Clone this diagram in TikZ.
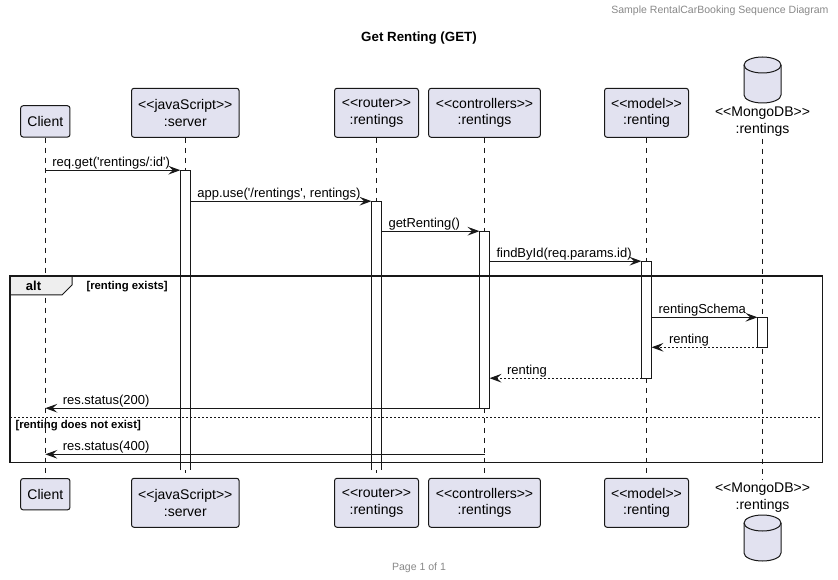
\documentclass[tikz,border=0pt]{standalone}
\usepackage{fontspec}
\setmainfont{Liberation Sans}[Ligatures=TeXOff]
\usetikzlibrary{arrows.meta}

\definecolor{partfill}{HTML}{E2E2F0}
\definecolor{partline}{HTML}{181818}
\definecolor{tabfill}{HTML}{EEEEEE}
\definecolor{greytext}{HTML}{888888}

\tikzset{every picture/.style={line width=0.75pt}}
\tikzset{
	participant/.style={draw=partline, fill=partfill, rounded corners=1.9pt, align=center, inner sep=0pt, minimum height=36.75pt, font=\fontsize{10.5}{12.4}\selectfont},
	dblabel/.style={align=center, inner sep=1.5pt, font=\fontsize{10.5}{12.4}\selectfont},
	lifeline/.style={draw=partline, line width=0.5pt, dash pattern=on 3.75pt off 3.75pt},
	actbar/.style={draw=partline, fill=white, minimum width=7.5pt, inner sep=0pt, outer sep=0pt},
	actopen/.style={actbar, draw=none},
	call/.style={draw=partline, -{Stealth[length=9pt, width=6.5pt, inset=3.5pt]}},
	reply/.style={call, dash pattern=on 1.5pt off 1.5pt},
	msglabel/.style={font=\fontsize{9.75}{11}\selectfont, inner sep=0pt, text height=7.5pt, text depth=2.6pt, anchor=south west},
	guard/.style={font=\bfseries\fontsize{8.5}{10}\selectfont, inner sep=0pt, anchor=west},
	pagetext/.style={text=greytext, inner sep=0pt, font=\fontsize{7.9}{9}\selectfont}
}

\begin{document}
\begin{tikzpicture}[x=0.75pt,y=0.75pt,yscale=-1,xscale=1]
	\useasboundingbox (0,0) rectangle (838,580);
	
	% Text Node
	\node[pagetext, anchor=east] (header) at (829,11) {Sample RentalCarBooking Sequence Diagram};
	% Text Node
	\node[inner sep=0pt, font=\bfseries\fontsize{10}{12}\selectfont] (title) at (419,38) {Get Renting (GET)};
	% Text Node
	\node[pagetext] (footer) at (419,568) {Page 1 of 1};
	
	%Participants (head)
	\node[participant, minimum width=37pt, minimum height=23.5pt] (clientTop) at (45.3,121.4) {Client};
	\node[participant, minimum width=80.7pt] (serverTop) at (185.3,112.8) {<<javaScript>>\\:server};
	\node[participant, minimum width=63pt] (routerTop) at (376.5,112.8) {<<router>>\\:rentings};
	\node[participant, minimum width=83.8pt] (ctrlTop) at (484.5,112.8) {<<controllers>>\\:rentings};
	\node[participant, minimum width=63pt] (modelTop) at (646.5,112.8) {<<model>>\\:renting};
	\node[dblabel] (dbTop) at (762.5,121.5) {<<MongoDB>>\\:rentings};
	%Shape: Database (head)
	\draw[draw=partline, fill=partfill] (744,65) -- (744,95) .. controls (744,99.4) and (752.3,103) .. (762.5,103) .. controls (772.7,103) and (781,99.4) .. (781,95) -- (781,65) .. controls (781,60.6) and (772.7,57) .. (762.5,57) .. controls (752.3,57) and (744,60.6) .. (744,65) -- cycle;
	\draw[draw=partline] (744,65) .. controls (744,69.4) and (752.3,73) .. (762.5,73) .. controls (772.7,73) and (781,69.4) .. (781,65);
	
	%Participants (foot)
	\node[participant, minimum width=37pt, minimum height=23.5pt] (clientBot) at (45.3,494.2) {Client};
	\node[participant, minimum width=80.7pt] (serverBot) at (185.3,502.8) {<<javaScript>>\\:server};
	\node[participant, minimum width=63pt] (routerBot) at (376.5,502.8) {<<router>>\\:rentings};
	\node[participant, minimum width=83.8pt] (ctrlBot) at (484.5,502.8) {<<controllers>>\\:rentings};
	\node[participant, minimum width=63pt] (modelBot) at (646.5,502.8) {<<model>>\\:renting};
	\node[dblabel] (dbBot) at (762.5,497.5) {<<MongoDB>>\\:rentings};
	%Shape: Database (foot)
	\draw[draw=partline, fill=partfill] (744,523) -- (744,553) .. controls (744,557.4) and (752.3,561) .. (762.5,561) .. controls (772.7,561) and (781,557.4) .. (781,553) -- (781,523) .. controls (781,518.6) and (772.7,515) .. (762.5,515) .. controls (752.3,515) and (744,518.6) .. (744,523) -- cycle;
	\draw[draw=partline] (744,523) .. controls (744,527.4) and (752.3,531) .. (762.5,531) .. controls (772.7,531) and (781,527.4) .. (781,523);
	
	%Lifelines
	\foreach \p in {client,server,router,ctrl,model,db}
		\draw[lifeline] (\p Top.south) -- (\p Bot.north);
	
	%Activations (server and router stay open to the end)
	\node[actopen, minimum height=225pt] (serverAct) at (185.3,320.2) {};
	\node[actopen, minimum height=201.75pt] (routerAct) at (376.5,335.7) {};
	\foreach \a in {serverAct,routerAct}
		\draw[draw=partline] (\a.south west) -- (\a.north west) -- (\a.north east) -- (\a.south east);
	\node[actbar, minimum height=132.75pt] (ctrlAct) at (484.5,319.7) {};
	\node[actbar, minimum height=87.75pt] (modelAct) at (646.5,319.7) {};
	\node[actbar, minimum height=22.5pt] (dbAct) at (762.5,332.3) {};
	
	%Shape: Alt frame
	\draw[draw=partline, fill=tabfill] (10,276) -- (72,276) -- (72,285) -- (62,295) -- (10,295) -- cycle;
	\draw[draw=partline, line width=1.125pt] (10,276) rectangle (822.7,462.3);
	\draw[draw=partline, dash pattern=on 1.5pt off 1.5pt] (10,417.3) -- (822.7,417.3);
	\node[inner sep=0pt, font=\bfseries\fontsize{9.75}{11}\selectfont] (altTag) at (33.5,286) {alt};
	\node[guard] (guardOk) at (86,286.5) {[renting exists]};
	\node[guard] (guardFail) at (15,425.5) {[renting does not exist]};
	
	%Messages
	\draw[call] (clientTop.south |- serverAct.north) -- node[msglabel, pos=0, xshift=4.9pt] {req.get('rentings/:id')} (serverAct.north west);
	\draw[call] (serverAct.east |- routerAct.north) -- node[msglabel, pos=0, xshift=4.9pt] {app.use('/rentings', rentings)} (routerAct.north west);
	\draw[call] (routerAct.east |- ctrlAct.north) -- node[msglabel, pos=0, xshift=4.9pt] {getRenting()} (ctrlAct.north west);
	\draw[call] (ctrlAct.east |- modelAct.north) -- node[msglabel, pos=0, xshift=4.9pt] {findById(req.params.id)} (modelAct.north west);
	\draw[call] (modelAct.east |- dbAct.north) -- node[msglabel, pos=0, xshift=4.9pt] {rentingSchema} (dbAct.north west);
	\draw[reply] (dbAct.south west) -- node[msglabel, pos=1, xshift=12.75pt] {renting} (modelAct.east |- dbAct.south);
	\draw[reply] (modelAct.south west) -- node[msglabel, pos=1, xshift=12.75pt] {renting} (ctrlAct.east |- modelAct.south);
	\draw[call] (ctrlAct.south west) -- node[msglabel, pos=1, xshift=12.75pt] {res.status(200)} (clientTop.south |- ctrlAct.south);
	\coordinate (failY) at (0,454.3);
	\draw[call] (ctrlTop.south |- failY) -- node[msglabel, pos=1, xshift=12.75pt] {res.status(400)} (clientTop.south |- failY);
	
\end{tikzpicture}
\end{document}
